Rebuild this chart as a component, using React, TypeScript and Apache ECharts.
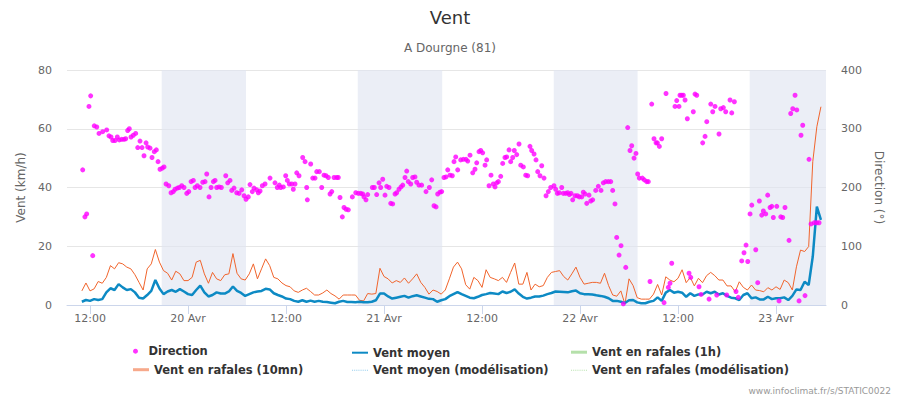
import React, { useEffect, useRef } from "react";
import * as echarts from "echarts";

// ---- axes ----
const xMin = 9.18; // hours since 19 Apr 00:00
const xMax = 102.12;
const xTickHours = [12, 24, 36, 48, 60, 72, 84, 96];
const xTickLabels = ["12:00", "20 Avr", "12:00", "21 Avr", "12:00", "22 Avr", "12:00", "23 Avr"];
const speedMax = 80;
const speedStep = 20;
const dirMax = 400;
const dirStep = 100;

// ---- night bands (hours) ----
const nightStart = [20.78, 44.78, 68.78, 92.78];
const nightEnd = [31.1, 55.12, 79.05, xMax];

// ---- wind series, half-hourly from 19 Apr 11:00 ----
const windStartHour = 11;
const windStepHours = 0.5;

const gust10mn = [
  4.8, 7.5, 4.8, 5.5, 8, 7.4, 9.4, 13.4, 12.3, 14.4,
  14, 12.9, 12.3, 10.3, 7.7, 5.1, 12.3, 14, 18.9, 14.6,
  11.7, 10.8, 8.5, 11.5, 10.6, 8.3, 8.3, 9.4, 14.6, 15.2,
  10.6, 7.4, 11.1, 8.9, 8.3, 10.3, 10.6, 17.5, 10.8, 8.9,
  8.5, 10.6, 14, 8.9, 12.3, 15.7, 13.4, 9.4, 8.9, 7.5,
  6.6, 6.2, 4.8, 4.3, 5.1, 5.7, 4.6, 3.4, 3.4, 4.1,
  5.1, 3.9, 3.1, 2, 3.4, 3.4, 3.4, 3.4, 1.6, 1.4,
  3.9, 3.7, 3.9, 12.5, 9.7, 8.9, 7.5, 8.3, 7.7, 9.2,
  7.4, 8.9, 10.6, 7.7, 6, 3.7, 5.1, 4.6, 3.7, 5.1,
  8.9, 12.9, 14.6, 12.3, 6.9, 5.4, 9.4, 8.3, 6, 12,
  9.4, 8.9, 8.3, 9.4, 7.7, 11.1, 14.3, 7.1, 7.1, 11.1,
  5.1, 7.1, 6.2, 6.6, 9.4, 11.1, 11.4, 11.7, 9.7, 8.5,
  10.6, 12.9, 9.4, 7.1, 7.4, 7.7, 7.7, 7.4, 10.8, 6.6,
  3.4, 3, 4.8, 0.3, 8.9, 6.6, 2.5, 2, 2, 2,
  3.7, 7, 3.4, 9.6, 8.5, 7.9, 9.1, 12, 7.6, 9.4,
  6.5, 9.1, 7.6, 10, 11.1, 10, 8.5, 8.5, 6.5, 6.5,
  4.5, 7.9, 6, 5.1, 6.8, 5.1, 4.9, 4.5, 5.9, 5.1,
  6.2, 5.3, 8.5, 7.6, 5.1, 13, 18.7, 18.2, 19.9, 48.8,
  60.7, 67.5,
];

const meanWind = [
  1.1, 1.7, 1.4, 2, 1.7, 2, 4.3, 5.7, 5.1, 7.1,
  6, 5.1, 5.4, 4.3, 2.5, 2.2, 3.4, 4.8, 8.5, 5.6,
  3.7, 4.6, 5.1, 4.5, 5.4, 4.6, 3.7, 3.4, 5.1, 6.6,
  4.3, 2.9, 3.4, 4.3, 3.9, 3.9, 4.6, 6.3, 4.8, 4.1,
  3.1, 3.7, 4.3, 4.6, 4.8, 5.5, 5.3, 4, 3.4, 2.9,
  2.2, 2, 1.4, 1.1, 1.6, 1.1, 1.5, 1.1, 1.4, 1.1,
  1, 0.8, 0.6, 1.1, 1.4, 1, 1, 0.9, 1.1, 0.9,
  0.9, 1.1, 1.6, 3.9, 3.9, 2.9, 2.2, 2.5, 2.8, 3.1,
  2.5, 3, 3.3, 2.9, 2.5, 2.1, 2, 1.1, 1.6, 2,
  3, 3.7, 4.4, 3.7, 3.1, 2.5, 2.3, 2.8, 3.4, 3.7,
  4.1, 3.9, 3.7, 4.6, 4.1, 4.5, 5.3, 3.9, 2.8, 2.2,
  2.5, 2.9, 2.9, 3.2, 3.7, 4.1, 4.6, 4.5, 4.4, 4.3,
  4.7, 4.9, 4, 3.7, 3.7, 3.6, 3.3, 3.1, 2.8, 2.3,
  1.4, 1.4, 1.1, 0.7, 1.6, 1.7, 0.9, 0.6, 0.6, 1.1,
  1.4, 2.6, 1.4, 4.2, 5.1, 4.2, 4.5, 4.2, 2.8, 4,
  3.1, 3.6, 3.6, 4.5, 4, 4.5, 3.6, 4, 3.1, 2.5,
  2.3, 1.7, 3.4, 4, 2.3, 2.6, 1.9, 1.9, 2.8, 2,
  2.3, 2.3, 2.6, 1.7, 3.1, 5.3, 5.1, 7.9, 6.8, 16.5,
  33.5, 29,
];

// ---- wind direction: [hour since 19 Apr 00:00, degrees] ----
const direction: [number, number][] = [
  [11.10, 230], [11.37, 150], [11.59, 155], [11.87, 338], [12.08, 356], [12.33, 84], [12.52, 305], [12.82, 303], [13.10, 292], [13.55, 295],
  [14.04, 298], [14.32, 288], [14.57, 286], [14.78, 280], [15.06, 280], [15.34, 286], [15.59, 281], [15.88, 282], [16.16, 282], [16.37, 283],
  [16.61, 297], [16.81, 300], [17.02, 286], [17.30, 289], [17.59, 292], [17.84, 268], [18.12, 279], [18.37, 268], [18.61, 254], [18.86, 276],
  [19.06, 269], [19.35, 267], [19.59, 251], [19.87, 261], [20.12, 264], [20.33, 244], [20.57, 231], [20.85, 233], [21.06, 235], [21.31, 206],
  [21.64, 203], [21.92, 191], [22.20, 193], [22.41, 197], [22.69, 199], [22.94, 200], [23.23, 203], [23.51, 200], [23.84, 190], [24.09, 193],
  [24.37, 210], [24.65, 212], [24.86, 200], [25.14, 203], [25.47, 200], [25.80, 209], [26.08, 210], [26.29, 223], [26.57, 184], [26.82, 200],
  [27.10, 210], [27.31, 212], [27.51, 200], [27.80, 201], [28.08, 200], [28.62, 220], [28.86, 208], [29.14, 212], [29.35, 195], [29.63, 199],
  [29.96, 191], [30.25, 190], [30.58, 196], [30.86, 186], [31.10, 180], [31.38, 184], [31.59, 205], [31.87, 193], [32.08, 199], [32.41, 196],
  [32.61, 191], [32.82, 194], [33.10, 203], [33.43, 206], [34.04, 216], [34.65, 208], [34.93, 200], [35.18, 204], [35.35, 200], [35.67, 201],
  [35.96, 220], [36.16, 212], [36.40, 206], [36.70, 206], [36.89, 197], [37.10, 206], [37.31, 225], [37.59, 220], [38.04, 251], [38.33, 244],
  [38.53, 200], [38.61, 179], [39.02, 240], [39.27, 216], [39.55, 216], [39.76, 227], [40.08, 227], [40.37, 200], [40.65, 221], [40.90, 220],
  [41.18, 217], [41.39, 189], [41.60, 193], [41.88, 217], [42.21, 217], [42.40, 217], [42.61, 183], [42.89, 150], [43.10, 166], [43.35, 163],
  [43.63, 162], [44.12, 184], [44.54, 191], [44.85, 190],
  [45.15, 190], [45.39, 189], [45.55, 184], [45.79, 179], [46.00, 188], [46.57, 200], [46.81, 200], [47.10, 188], [47.39, 208], [47.59, 200],
  [47.84, 214], [48.12, 187], [48.33, 202], [48.61, 200], [48.82, 173], [49.06, 172], [49.35, 189], [49.55, 191], [49.83, 197], [50.08, 201],
  [50.29, 204], [50.57, 217], [50.78, 228], [50.97, 210], [51.27, 206], [51.51, 217], [51.79, 218], [52.00, 209], [52.28, 204], [52.61, 204],
  [53.14, 193], [53.55, 200], [53.84, 213], [54.12, 169], [54.37, 167], [54.57, 189], [54.85, 192], [55.06, 193], [55.34, 217], [55.59, 218],
  [55.80, 230], [56.08, 221], [56.36, 220], [56.57, 244], [56.78, 252], [57.02, 230], [57.39, 247], [57.71, 248], [58.04, 248], [58.25, 245],
  [58.53, 255], [58.86, 225], [59.14, 231], [59.35, 242], [59.63, 261], [59.84, 263], [60.08, 259], [60.37, 238], [60.57, 247], [60.86, 203],
  [61.10, 221], [61.38, 206], [61.59, 201], [61.80, 208], [62.00, 210], [62.29, 219], [62.53, 241], [62.81, 251], [63.02, 252], [63.31, 264],
  [63.51, 244], [63.76, 251], [63.95, 263], [64.25, 256], [64.53, 274], [64.74, 238], [65.06, 235], [65.35, 221], [65.59, 220], [65.87, 270],
  [66.08, 263], [66.37, 257], [66.61, 247], [66.82, 227], [67.10, 220], [67.31, 237], [67.59, 216], [67.84, 186], [68.12, 193], [68.41, 200],
  [68.81, 203], [69.02, 197], [69.22, 190], [69.46, 191], [69.76, 200], [69.95, 190], [70.25, 190], [70.49, 191], [70.69, 188], [70.90, 190],
  [71.10, 179], [71.39, 186], [71.67, 186], [71.91, 184], [72.21, 184], [72.40, 192], [72.61, 189], [72.82, 173], [73.10, 187], [73.31, 177],
  [73.55, 179], [73.92, 195], [74.24, 202], [74.57, 195], [74.85, 208], [75.14, 210], [75.46, 210], [75.76, 210], [76.00, 195], [76.28, 172],
  [76.49, 115], [76.78, 85], [77.02, 101], [77.30, 2], [77.60, 64], [77.84, 302], [78.12, 263], [78.33, 271], [78.61, 250], [78.85, 258],
  [79.06, 223], [79.26, 216],
  [79.63, 216], [79.87, 213], [80.16, 210], [80.36, 210], [80.57, 40], [80.78, 342], [81.06, 283], [81.31, 276], [81.47, 276], [81.71, 270],
  [82.00, 283], [82.29, 4], [82.53, 360], [82.81, 30], [83.02, 37], [83.23, 71], [83.63, 338], [83.84, 348], [84.12, 338], [84.24, 357],
  [84.45, 357], [84.65, 357], [84.86, 349], [85.14, 317], [85.35, 54], [85.56, 47], [85.87, 329], [86.08, 359], [86.29, 357], [86.57, 31],
  [86.82, 18], [87.02, 276], [87.31, 287], [87.52, 312], [87.80, 10], [88.01, 342], [88.25, 329], [88.53, 338], [88.74, 17], [89.02, 291],
  [89.23, 334], [89.55, 336], [89.84, 329], [89.96, 17], [90.37, 349], [90.58, 327], [90.90, 346], [91.10, 23], [91.38, 13], [91.80, 75],
  [92.08, 89], [92.33, 102], [92.54, 74], [92.82, 155], [93.03, 170], [93.52, 94], [93.76, 38], [93.96, 177], [94.25, 153], [94.45, 160],
  [94.74, 155], [94.98, 187], [95.27, 166], [95.48, 168], [95.67, 149], [96.09, 168], [96.37, 7], [96.58, 150], [96.82, 149], [97.10, 166],
  [97.59, 110], [97.80, 326], [98.05, 334], [98.33, 357], [98.54, 332], [98.82, 7], [99.06, 289], [99.27, 306], [99.55, 16], [100.04, 248],
  [100.29, 138], [100.69, 140], [100.98, 140], [101.27, 140],
];

const FONT = "DejaVu Sans";
const C_GUST = "#f0642c";
const C_GUST_LEGEND = "#f7a98b";
const C_MEAN = "#0d8ac4";
const C_GUST1H = "#a3d895";
const C_MEAN_MODEL = "#7cc2e8";
const C_GUST_MODEL = "#a9dc9c";
const C_DIR = "#ff00ff";
const DOTS = "path://M0,0h1v1h-1zM2,0h1v1h-1zM4,0h1v1h-1zM6,0h1v1h-1zM8,0h1v1h-1zM10,0h1v1h-1zM12,0h1v1h-1zM14,0h1v1h-1z";

function legendAt(name: string, icon: string, color: string, left: number, top: number, w: number, h: number) {
  return {
    data: [{ name, icon, itemStyle: { color, borderWidth: 0 }, lineStyle: { color, width: h } }],
    left,
    top,
    padding: 0,
    itemWidth: w,
    itemHeight: h,
    selectedMode: false,
    textStyle: { color: "#333", fontSize: 11.5, fontWeight: "bold", fontFamily: FONT },
  };
}

export default function App() {
  const ref = useRef<HTMLDivElement>(null);

  useEffect(() => {
    document.body.style.margin = "0";
    if (!ref.current) return;
    const chart = echarts.init(ref.current, null, { renderer: "svg" });

    const windPoint = (v: number, i: number) => [windStartHour + i * windStepHours, v];

    const option: any = {
      animation: false,
      textStyle: { fontFamily: FONT },
      title: [
        { text: "Vent", left: "center", top: 3, textStyle: { fontSize: 18, fontWeight: "normal", color: "#333", fontFamily: FONT } },
        { text: "A Dourgne (81)", left: "center", top: 37, textStyle: { fontSize: 12, fontWeight: "normal", color: "#666", fontFamily: FONT } },
      ],
      grid: { left: 67, right: 74, top: 70, bottom: 95 },
      xAxis: {
        type: "value",
        min: xMin,
        max: xMax,
        splitLine: { show: false },
        axisLine: { show: true, lineStyle: { color: "#ccd6eb", width: 1 } },
        axisTick: { show: true, length: 9, lineStyle: { color: "#ccd6eb" }, customValues: xTickHours },
        axisLabel: {
          customValues: xTickHours,
          formatter: (v: number) => {
            const i = xTickHours.indexOf(v);
            return i >= 0 ? xTickLabels[i] : "";
          },
          color: "#666",
          fontSize: 11,
          margin: 8,
          fontFamily: FONT,
        },
      },
      yAxis: [
        {
          type: "value",
          min: 0,
          max: speedMax,
          interval: speedStep,
          name: "Vent (km/h)",
          nameLocation: "middle",
          nameGap: 39,
          nameRotate: 90,
          nameTextStyle: { color: "#666", fontSize: 12, fontFamily: FONT },
          axisLine: { show: false },
          axisTick: { show: false },
          axisLabel: { color: "#666", fontSize: 11, margin: 15, fontFamily: FONT },
          splitLine: { lineStyle: { color: "#e6e6e6", width: 1 } },
        },
        {
          type: "value",
          min: 0,
          max: dirMax,
          interval: dirStep,
          position: "right",
          name: "Direction (°)",
          nameLocation: "middle",
          nameGap: 45,
          nameRotate: -90,
          nameTextStyle: { color: "#666", fontSize: 12, fontFamily: FONT },
          axisLine: { show: false },
          axisTick: { show: false },
          axisLabel: { color: "#666", fontSize: 11, margin: 15, fontFamily: FONT },
          splitLine: { show: false },
        },
      ],
      legend: [
        legendAt("Direction", "circle", C_DIR, 133, 345.2, 16, 5),
        legendAt("Vent moyen", "rect", C_MEAN, 352, 346.7, 16, 2),
        legendAt("Vent en rafales (1h)", "rect", C_GUST1H, 571, 346.2, 16, 3),
        legendAt("Vent en rafales (10mn)", "rect", C_GUST_LEGEND, 133, 363.7, 16, 3),
        legendAt("Vent moyen (modélisation)", DOTS, C_MEAN_MODEL, 352, 364.2, 16, 2),
        legendAt("Vent en rafales (modélisation)", DOTS, C_GUST_MODEL, 571, 364.2, 16, 2),
      ],
      graphic: [
        {
          type: "text",
          right: 9,
          top: 386,
          style: { text: "www.infoclimat.fr/s/STATIC0022", fill: "#999", font: `9px "${FONT}"` },
        },
      ],
      series: [
        {
          name: "Vent en rafales (10mn)",
          type: "line",
          data: gust10mn.map(windPoint),
          showSymbol: false,
          symbol: "none",
          lineStyle: { color: C_GUST, width: 1 },
          itemStyle: { color: C_GUST_LEGEND },
          z: 2,
          markArea: {
            silent: true,
            itemStyle: { color: "rgba(222,228,241,0.62)" },
            label: { show: false },
            data: nightStart.map((s, i) => [{ xAxis: s }, { xAxis: nightEnd[i] }]),
          },
        },
        {
          name: "Vent moyen",
          type: "line",
          data: meanWind.map(windPoint),
          showSymbol: false,
          symbol: "none",
          lineStyle: { color: C_MEAN, width: 2.5 },
          itemStyle: { color: C_MEAN },
          z: 3,
        },
        {
          name: "Direction",
          type: "scatter",
          yAxisIndex: 1,
          data: direction,
          symbolSize: 5,
          itemStyle: { color: C_DIR },
          z: 4,
        },
        { name: "Vent en rafales (1h)", type: "scatter", data: [], itemStyle: { color: C_GUST1H } },
        { name: "Vent moyen (modélisation)", type: "scatter", data: [], itemStyle: { color: C_MEAN_MODEL } },
        { name: "Vent en rafales (modélisation)", type: "scatter", data: [], itemStyle: { color: C_GUST_MODEL } },
      ],
    };

    chart.setOption(option);
    return () => chart.dispose();
  }, []);

  return (
    <div
      ref={ref}
      style={{ position: "fixed", left: 0, top: 0, width: 900, height: 400, background: "#fff" }}
    />
  );
}
